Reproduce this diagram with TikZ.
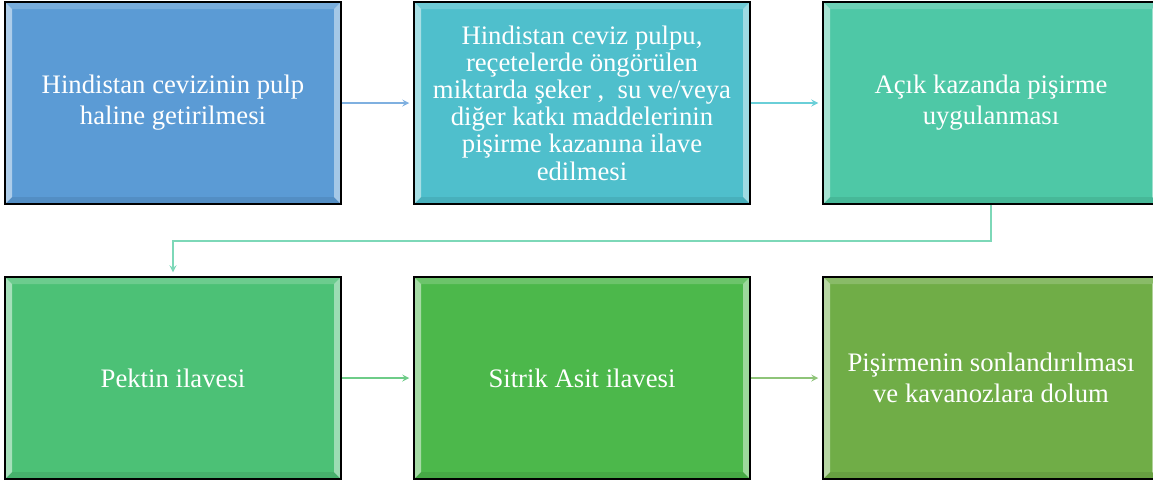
\documentclass[tikz,border=0pt]{standalone}
\usepackage{fontspec}
\setmainfont{Liberation Serif}
\definecolor{kutuA}{HTML}{5B9BD5}
\definecolor{kutuB}{HTML}{4FBFCC}
\definecolor{kutuC}{HTML}{4EC8A6}
\definecolor{kutuD}{HTML}{4CC176}
\definecolor{kutuE}{HTML}{4CB84B}
\definecolor{kutuF}{HTML}{70AD47}
\definecolor{okA}{HTML}{7FB0E0}
\definecolor{okB}{HTML}{6ACFD8}
\definecolor{okC}{HTML}{7DD8B8}
\definecolor{okD}{HTML}{6ECC88}
\definecolor{okE}{HTML}{8EC478}
\tikzset{
  blok/.style={draw=black,line width=1.5pt,rectangle,minimum width=336pt,minimum height=202pt,
    text=white,align=center,font=\fontsize{26.7}{31}\selectfont,
    path picture={
      \fill[white,opacity=0.18] (path picture bounding box.north west) -- (path picture bounding box.north east)
        -- ([xshift=-7pt,yshift=-7pt]path picture bounding box.north east) -- ([xshift=7pt,yshift=-7pt]path picture bounding box.north west) -- cycle;
      \fill[white,opacity=0.5] (path picture bounding box.north west) -- ([xshift=7pt,yshift=-7pt]path picture bounding box.north west)
        -- ([xshift=7pt,yshift=7pt]path picture bounding box.south west) -- (path picture bounding box.south west) -- cycle;
      \fill[white,opacity=0.45] (path picture bounding box.north east) -- ([xshift=-7pt,yshift=-7pt]path picture bounding box.north east)
        -- ([xshift=-7pt,yshift=7pt]path picture bounding box.south east) -- (path picture bounding box.south east) -- cycle;
      \fill[black,opacity=0.08] (path picture bounding box.south west) -- ([xshift=7pt,yshift=7pt]path picture bounding box.south west)
        -- ([xshift=-7pt,yshift=7pt]path picture bounding box.south east) -- (path picture bounding box.south east) -- cycle;
    }},
  ok/.style={->,>=stealth,line width=2pt,shorten >=4pt}
}
\begin{document}
\begin{tikzpicture}[x=1pt,y=-1pt]
\useasboundingbox (0,0) rectangle (1153,483);
\node[blok,fill=kutuA] (a) at (173,103) {Hindistan cevizinin pulp\\haline getirilmesi};
\node[blok,fill=kutuB,font=\fontsize{26.7}{27.2}\selectfont] (b) at (582,103) {Hindistan ceviz pulpu,\\reçetelerde öngörülen\\miktarda şeker ,\ \ su ve/veya\\diğer katkı maddelerinin\\pişirme kazanına ilave\\edilmesi};
\node[blok,fill=kutuC] (c) at (991,103) {Açık kazanda pişirme\\uygulanması};
\node[blok,fill=kutuD] (d) at (173,378) {Pektin ilavesi};
\node[blok,fill=kutuE] (e) at (582,378) {Sitrik Asit ilavesi};
\node[blok,fill=kutuF] (f) at (991,378) {Pişirmenin sonlandırılması\\ve kavanozlara dolum};
\draw[ok,okA] (a) -- (b);
\draw[ok,okB] (b) -- (c);
\draw[ok,okC] (c.south) -- ++(0,36) -| (d.north);
\draw[ok,okD] (d) -- (e);
\draw[ok,okE] (e) -- (f);
\end{tikzpicture}
\end{document}
